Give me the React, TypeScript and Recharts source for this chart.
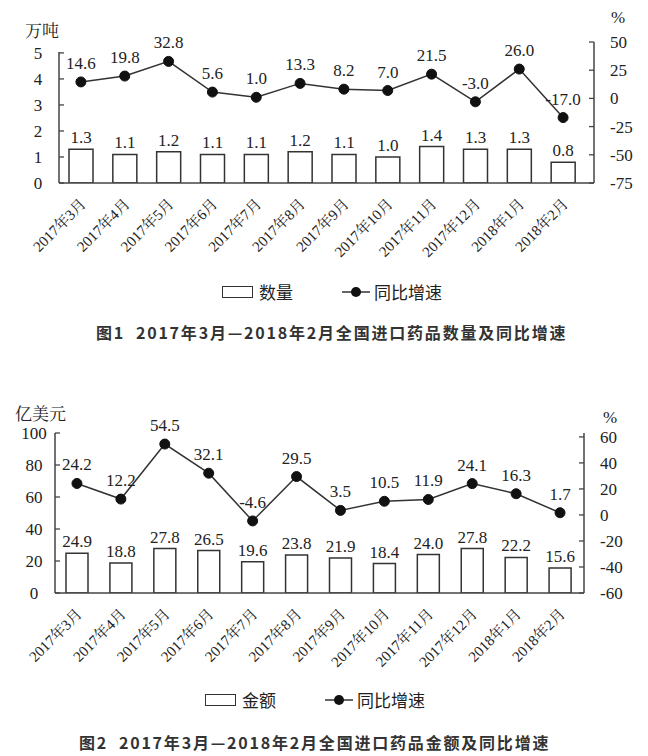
import { Bar, ComposedChart, LabelList, Line, XAxis, YAxis } from "recharts";

const months = [
  "2017年3月", "2017年4月", "2017年5月", "2017年6月", "2017年7月", "2017年8月",
  "2017年9月", "2017年10月", "2017年11月", "2017年12月", "2018年1月", "2018年2月",
];
// 图1：数量（万吨）及同比增速（%）
const qty = [1.3, 1.1, 1.2, 1.1, 1.1, 1.2, 1.1, 1.0, 1.4, 1.3, 1.3, 0.8];
const qtyYoy = [14.6, 19.8, 32.8, 5.6, 1.0, 13.3, 8.2, 7.0, 21.5, -3.0, 26.0, -17.0];
const qtyTicks = [0, 1, 2, 3, 4, 5];
const qtyYoyTicks = [-75, -50, -25, 0, 25, 50];
// 图2：金额（亿美元）及同比增速（%）
const amount = [24.9, 18.8, 27.8, 26.5, 19.6, 23.8, 21.9, 18.4, 24.0, 27.8, 22.2, 15.6];
const amountYoy = [24.2, 12.2, 54.5, 32.1, -4.6, 29.5, 3.5, 10.5, 11.9, 24.1, 16.3, 1.7];
const amountTicks = [0, 20, 40, 60, 80, 100];
const amountYoyTicks = [-60, -40, -20, 0, 20, 40, 60];

const INK = "#222";
const AXIS = "#444";
const SERIF = "Liberation Serif, DejaVu Serif, serif";
const MIXED = "Liberation Serif, Noto Serif CJK SC, Noto Sans CJK SC, serif";
const CJK_SANS = "Noto Sans CJK SC, sans-serif";

const fmt1 = (v: any) => Number(v).toFixed(1);

function LeftTick({ x, y, payload }: any) {
  return (
    <g>
      <line x1={x} y1={y} x2={x + 5} y2={y} stroke={AXIS} strokeWidth={1.3} />
      <text x={x - 21} y={y} dy="0.35em" textAnchor="middle" fontSize={17} style={{ fontFamily: SERIF }} fill={INK}>
        {payload.value}
      </text>
    </g>
  );
}

function RightTick({ x, y, payload }: any) {
  return (
    <g>
      <line x1={x - 5} y1={y} x2={x} y2={y} stroke={AXIS} strokeWidth={1.3} />
      <text x={x + 16} y={y} dy="0.35em" textAnchor="start" fontSize={17} style={{ fontFamily: SERIF }} fill={INK}>
        {payload.value}
      </text>
    </g>
  );
}

function MonthTick({ x, y, payload }: any) {
  return (
    <text
      transform={`translate(${x + 6},${y + 22}) rotate(-45)`}
      textAnchor="end"
      fontSize={15}
      style={{ fontFamily: MIXED }}
      fill={INK}
    >
      {payload.value}
    </text>
  );
}

const labelStyle = { fontSize: 17, fontFamily: SERIF, fill: INK };

function ComboChart(props: {
  bars: number[];
  yoy: number[];
  leftTicks: number[];
  rightTicks: number[];
  leftDomain: [number, number];
  rightDomain: [number, number];
  margin: { top: number; right: number; bottom: number; left: number };
  padRight: number;
  barSize: number;
  leftGap: number;
}) {
  const data = months.map((m, i) => ({ month: m, v: props.bars[i], yoy: props.yoy[i] }));
  return (
    <ComposedChart width={648} height={290} data={data} margin={props.margin} style={{ fontFamily: SERIF }}>
      <XAxis
        dataKey="month"
        interval={0}
        height={90}
        tickLine={false}
        tickSize={0}
        tickMargin={0}
        tick={<MonthTick />}
        padding={{ left: 0, right: props.padRight }}
        axisLine={{ stroke: AXIS, strokeWidth: 1.5 }}
      />
      <YAxis
        yAxisId="l"
        orientation="left"
        width={40}
        domain={props.leftDomain}
        ticks={props.leftTicks}
        allowDataOverflow
        tickLine={false}
        tickSize={0}
        tickMargin={0}
        tick={<LeftTick />}
        axisLine={{ stroke: AXIS, strokeWidth: 1.5, strokeDasharray: `0 ${props.leftGap} 2000` }}
      />
      <YAxis
        yAxisId="r"
        orientation="right"
        width={40}
        domain={props.rightDomain}
        ticks={props.rightTicks}
        allowDataOverflow
        tickLine={false}
        tickSize={0}
        tickMargin={0}
        tick={<RightTick />}
        axisLine={{ stroke: AXIS, strokeWidth: 1.5 }}
      />
      <Bar yAxisId="l" dataKey="v" fill="#fff" stroke="#333" strokeWidth={1.5} barSize={props.barSize} isAnimationActive={false}>
        <LabelList dataKey="v" position="top" offset={6} formatter={fmt1} style={labelStyle} />
      </Bar>
      <Line
        yAxisId="r"
        dataKey="yoy"
        type="linear"
        stroke="#333"
        strokeWidth={1.5}
        dot={{ r: 5, fill: "#111", stroke: "#111", strokeWidth: 1 }}
        isAnimationActive={false}
      >
        <LabelList dataKey="yoy" position="top" offset={13} formatter={fmt1} style={labelStyle} />
      </Line>
    </ComposedChart>
  );
}

function Legend({ top, left, barName }: { top: number; left: number; barName: string }) {
  return (
    <div style={{ position: "absolute", top, left, display: "flex", alignItems: "center", fontFamily: CJK_SANS, fontSize: 17, color: INK, lineHeight: "20px" }}>
      <span style={{ display: "inline-block", width: 29, height: 10, border: "1.5px solid #333", background: "#fff" }} />
      <span style={{ marginLeft: 6 }}>{barName}</span>
      <svg width={30} height={14} style={{ marginLeft: 48 }}>
        <line x1={1} y1={7} x2={29} y2={7} stroke="#333" strokeWidth={1.5} />
        <circle cx={15} cy={7} r={5} fill="#111" />
      </svg>
      <span style={{ marginLeft: 3 }}>同比增速</span>
    </div>
  );
}

const caption = { position: "absolute" as const, fontFamily: CJK_SANS, fontWeight: 700, fontSize: 16, letterSpacing: 1.8, color: "#333", whiteSpace: "pre" as const };
const unit = { position: "absolute" as const, fontFamily: MIXED, fontSize: 17, color: INK, lineHeight: "20px" };

export default function App() {
  return (
    <div style={{ position: "absolute", left: 0, top: 0, width: 648, height: 756, background: "#fff", overflow: "hidden" }}>
      <div style={{ position: "absolute", left: 0, top: 0 }}>
        <ComboChart
          bars={qty}
          yoy={qtyYoy}
          leftTicks={qtyTicks}
          rightTicks={qtyYoyTicks}
          leftDomain={[0, 5.42]}
          rightDomain={[-75, 50]}
          margin={{ top: 42, right: 14, bottom: 17, left: 19 }}
          padRight={9}
          barSize={24}
          leftGap={10}
        />
      </div>
      <div style={{ ...unit, left: 25, top: 22 }}>万吨</div>
      <div style={{ ...unit, left: 611, top: 8 }}>%</div>
      <Legend top={282} left={222} barName="数量" />
      <div style={{ ...caption, left: 96, top: 320 }}>{"图1  2017年3月—2018年2月全国进口药品数量及同比增速"}</div>

      <div style={{ position: "absolute", left: 0, top: 390 }}>
        <ComboChart
          bars={amount}
          yoy={amountYoy}
          leftTicks={amountTicks}
          rightTicks={amountYoyTicks}
          leftDomain={[0, 100]}
          rightDomain={[-60, 63]}
          margin={{ top: 43, right: 24, bottom: -3, left: 15 }}
          padRight={2}
          barSize={22}
          leftGap={0}
        />
      </div>
      <div style={{ ...unit, left: 15, top: 405 }}>亿美元</div>
      <div style={{ ...unit, left: 603, top: 408 }}>%</div>
      <Legend top={690} left={205} barName="金额" />
      <div style={{ ...caption, left: 79, top: 730 }}>{"图2  2017年3月—2018年2月全国进口药品金额及同比增速"}</div>
    </div>
  );
}
